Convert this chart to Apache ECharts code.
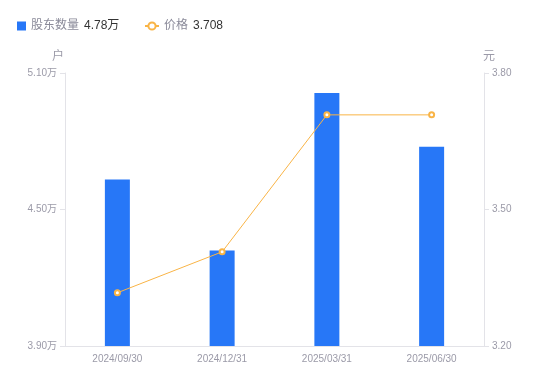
<!DOCTYPE html>
<html><head><meta charset="utf-8">
<script src="https://cdn.jsdelivr.net/npm/echarts@6/dist/echarts.min.js"></script>
<style>html,body{margin:0;padding:0;background:#fff}#c{width:550px;height:381px}</style>
</head><body><div id="c"></div>
<script>
var categories = ['2024/09/30', '2024/12/31', '2025/03/31', '2025/06/30'];
var holders = [46320, 43200, 50120, 47760];
var prices = [3.317, 3.407, 3.708, 3.708];
var holderTicks = [39000, 45000, 51000];
var priceTicks = [3.20, 3.50, 3.80];

var chart = echarts.init(document.getElementById('c'));
var labelColor = '#9b9aa8';
var fontFam = '"Liberation Sans", Arial, "Noto Sans CJK SC", sans-serif';
var richStyle = {
  a: {color: '#8a8a99', fontSize: 12, fontFamily: fontFam},
  b: {color: '#333', fontSize: 12, padding: [0, 0, 0, 5], fontFamily: fontFam}
};
chart.setOption({
  animation: false,
  textStyle: {fontFamily: fontFam},
  legend: [{
    left: 12, top: 15, itemWidth: 9, itemHeight: 9,
    data: [{name: '股东数量', icon: 'path://M0,0h10v10h-10z'}],
    formatter: function (n) {
      return '{a|' + n + '}{b|' + (holders[holders.length-1]/10000).toFixed(2) + '万}';
    },
    textStyle: {fontSize: 12, rich: richStyle}
  }, {
    left: 139, top: 15, itemWidth: 14, itemHeight: 9,
    data: [{name: '价格'}],
    formatter: function (n) {
      return '{a|' + n + '}{b|' + prices[prices.length-1].toFixed(3) + '}';
    },
    textStyle: {fontSize: 12, rich: richStyle}
  }],
  grid: {left: 65, right: 66, top: 73, bottom: 35},
  xAxis: {
    type: 'category', data: categories,
    axisLine: {lineStyle: {color: '#e3e3e8'}},
    axisTick: {show: false},
    axisLabel: {color: labelColor, fontSize: 10, margin: 8}
  },
  yAxis: [{
    type: 'value', name: '户', min: holderTicks[0], max: holderTicks[2], interval: holderTicks[1]-holderTicks[0],
    nameTextStyle: {color: labelColor, fontSize: 12, padding: [0, 14, 0, 0]}, nameGap: 10,
    axisLine: {show: true, lineStyle: {color: '#e3e3e8'}},
    axisTick: {show: true, length: 5, lineStyle: {color: '#e3e3e8'}},
    splitLine: {show: false},
    axisLabel: {color: labelColor, fontSize: 10, margin: 8, formatter: function (v) { return (v/10000).toFixed(2) + '万'; }}
  }, {
    type: 'value', name: '元', min: priceTicks[0], max: priceTicks[2], interval: 0.3,
    nameTextStyle: {color: labelColor, fontSize: 12, padding: [0, 0, 0, 10]}, nameGap: 10,
    axisLine: {show: true, lineStyle: {color: '#e3e3e8'}},
    axisTick: {show: true, length: 5, lineStyle: {color: '#e3e3e8'}},
    splitLine: {show: false},
    axisLabel: {color: labelColor, fontSize: 10, margin: 8, formatter: function (v) { return v.toFixed(2); }}
  }],
  series: [{
    name: '股东数量', type: 'bar', data: holders, barWidth: 25,
    itemStyle: {color: '#2777f7'}
  }, {
    name: '价格', type: 'line', yAxisIndex: 1, data: prices,
    symbol: 'emptyCircle', symbolSize: 5,
    lineStyle: {color: '#f9b446', width: 1},
    itemStyle: {color: '#f9b446', borderWidth: 2}
  }]
});
</script></body></html>
